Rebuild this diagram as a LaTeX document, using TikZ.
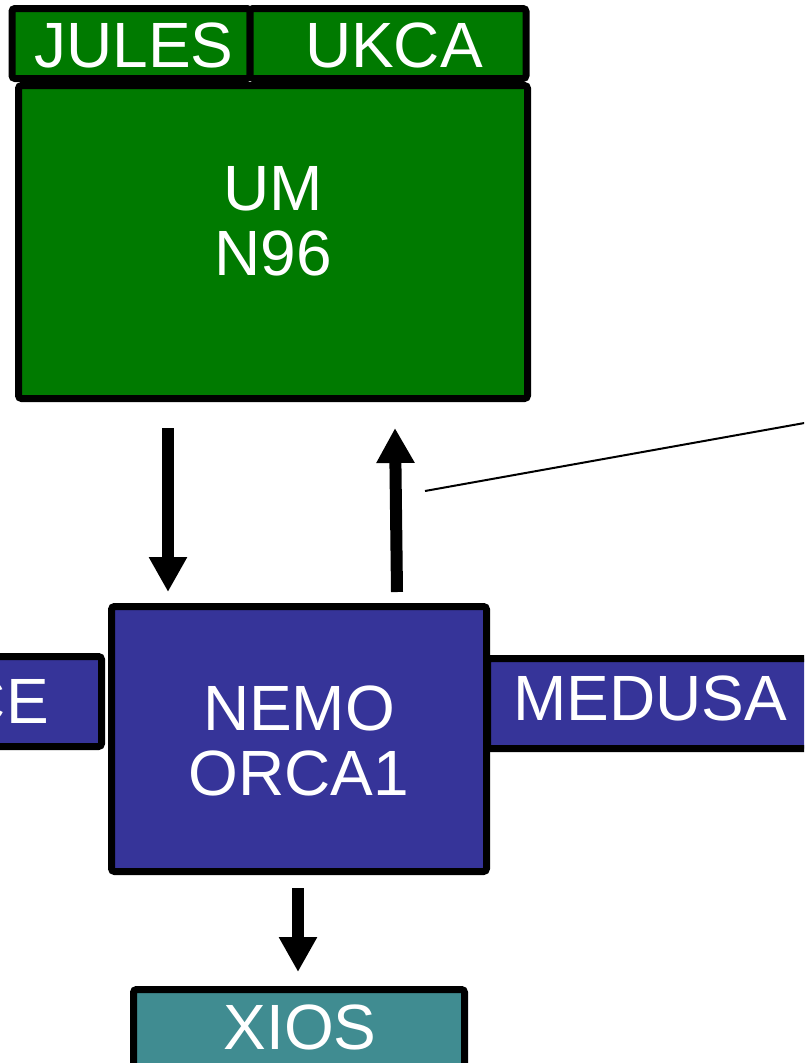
\documentclass[tikz,border=0pt]{standalone}
\usepackage{fontspec}
\setmainfont{Liberation Sans}
\usetikzlibrary{arrows.meta,calc}
\definecolor{umgreen}{RGB}{0,122,0}
\definecolor{nemoblue}{RGB}{54,52,153}
\definecolor{xiosteal}{RGB}{64,140,145}
\begin{document}
\begin{tikzpicture}[x=1pt,y=-1pt,
  box/.style={draw=black,line width=7pt,rounded corners=3pt,inner sep=0pt,outer sep=3.5pt},
  lbl/.style={text=white,font=\fontsize{64}{65}\selectfont,align=center,inner sep=0pt},
  bigarrow/.style={line width=12pt,-{Triangle[width=36pt,length=35pt]}},
  thin/.style={line width=2pt}]
\useasboundingbox (0,0) rectangle (804,1063);
\clip (0,0) rectangle (804,1063);
% UM
\node[box,fill=umgreen,minimum width=509pt,minimum height=313pt] (UM) at (273,242) {};
\node[lbl] (UMt) at (273,221) {UM\\N96};
\node[box,fill=umgreen,minimum width=238pt,minimum height=70pt] (JULES) at (131,43.5) {};
\node[box,fill=umgreen,minimum width=276pt,minimum height=70pt] (UKCA) at (388,43.5) {};
\node[lbl] (JULESt) at (134,45) {JULES};
\node[lbl] (UKCAt) at (394,45) {UKCA};
% NEMO
\node[box,fill=nemoblue,minimum width=375pt,minimum height=265pt] (NEMO) at (299,739) {};
\node[lbl] (NEMOt) at (299,741) {NEMO\\ORCA1};
% side boxes
\node[box,fill=nemoblue,minimum width=130pt,minimum height=90pt] (CE) at (36.5,701.5) {};
\node[lbl,anchor=east] (CEt) at (49,701) {CE};
\node[box,fill=nemoblue,minimum width=360pt,minimum height=90pt] (MEDUSA) at (667.5,703.5) {};
\node[lbl] (MEDUSAt) at (650,698) {MEDUSA};
% XIOS
\node[box,fill=xiosteal,minimum width=331pt,minimum height=100pt] (XIOS) at (299,1039.5) {};
\node[lbl] (XIOSt) at (300,1027) {XIOS};
% arrows
\coordinate (ax1) at (168,0);
\coordinate (ax3) at (298,0);
\draw[bigarrow] ([yshift=-26pt]UM.south -| ax1) -- ([yshift=11pt]NEMO.north -| ax1);
\coordinate (up0) at (397,592);
\coordinate (up1) at (395,428);
\draw[bigarrow] (up0) -- (up1);
\coordinate (l0) at (425,491);
\coordinate (l1) at (810,422);
\draw[thin] (l0) -- (l1);
\draw[bigarrow] ([yshift=-13pt]NEMO.south -| ax3) -- ([yshift=14pt]XIOS.north -| ax3);
\end{tikzpicture}
\end{document}
